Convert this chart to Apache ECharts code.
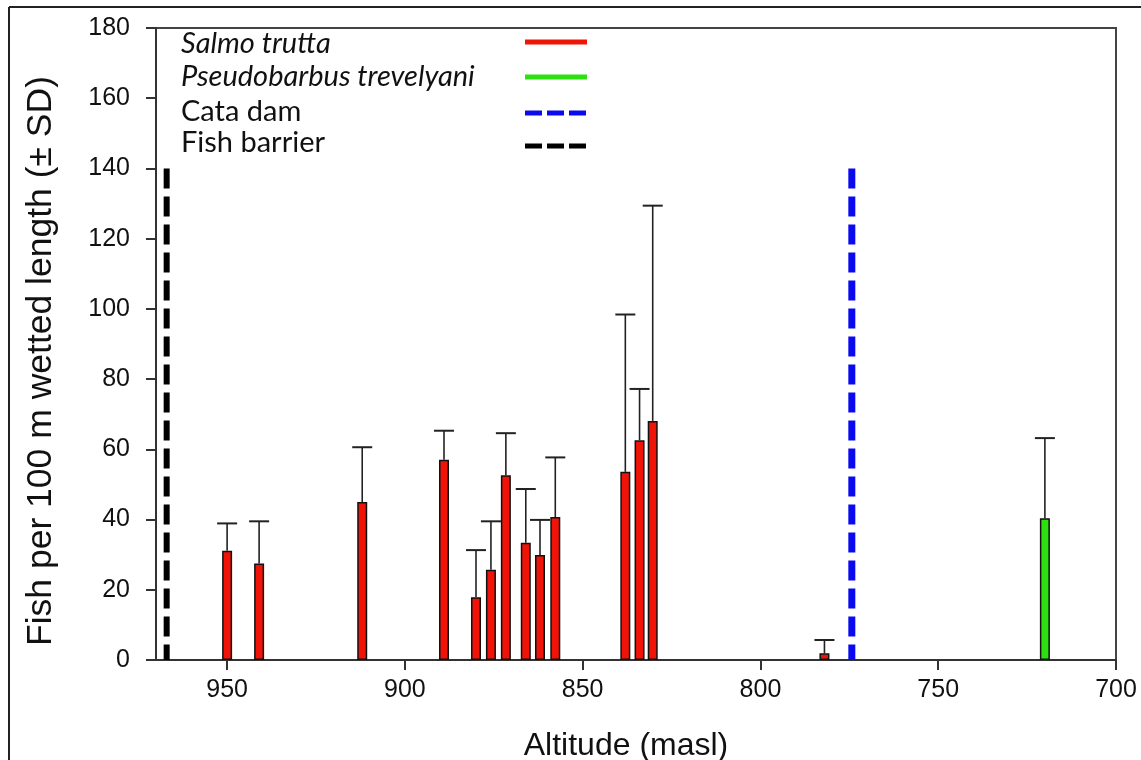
<!DOCTYPE html>
<html>
<head>
<meta charset="utf-8">
<script src="https://cdn.jsdelivr.net/npm/echarts@6/dist/echarts.min.js"></script>
<style>html,body{margin:0;padding:0;background:#fff;}#chart{width:1141px;height:760px;}</style>
</head>
<body>
<div id="chart"></div>
<script>
// Salmo trutta sites: altitude (masl), mean fish per 100 m, SD
const salmoAltitude = [950, 941, 912, 889, 880, 875.8, 871.6, 866, 862, 857.7, 838, 834, 830.3, 782];
const salmoMean     = [31.1, 27.5, 45.0, 57.0, 17.9, 25.7, 52.6, 33.4, 29.9, 40.7, 53.6, 62.6, 68.1, 1.9];
const salmoSD       = [7.8, 12.0, 15.6, 8.3, 13.4, 13.8, 12.0, 15.3, 10.0, 17.0, 44.8, 14.6, 61.3, 3.8];
// Pseudobarbus trevelyani site
const pseudoAltitude = [720];
const pseudoMean     = [40.4];
const pseudoSD       = [22.8];
// Reference lines
const cataDamAltitude = 774.3;
const fishBarrierAltitude = 967;
const referenceLineTop = 140;
// Axes
const xTickValues = [950, 900, 850, 800, 750, 700];
const xMin = 700, xMax = 970;
const yMin = 0, yMax = 180, yInterval = 20;
const legendLabels = ['Salmo trutta', 'Pseudobarbus trevelyani', 'Cata dam', 'Fish barrier'];

const salmoData = salmoAltitude.map((a, i) => [a, salmoMean[i]]);
const pseudoData = pseudoAltitude.map((a, i) => [a, pseudoMean[i]]);
const errData = salmoAltitude.map((a, i) => [a, salmoMean[i], salmoSD[i]])
  .concat(pseudoAltitude.map((a, i) => [a, pseudoMean[i], pseudoSD[i]]));

const FONT = '"Liberation Sans", Arial, sans-serif';
const LFONT = 'Lato, "Open Sans", sans-serif';

const chart = echarts.init(document.getElementById('chart'));
chart.setOption({
  animation: false,
  backgroundColor: '#fff',
  grid: { left: 156, right: 25, top: 28, bottom: 100, show: true, borderColor: '#444', borderWidth: 2, backgroundColor: 'transparent', containLabel: false, outerBoundsMode: 'none' },
  xAxis: {
    type: 'value', min: xMin, max: xMax, inverse: true,
    name: 'Altitude (masl)', nameLocation: 'middle', nameGap: 70,
    nameTextStyle: { fontFamily: FONT, fontSize: 32, color: '#111', padding: [0, 20, 0, 0] },
    axisLine: { show: true, onZero: false, lineStyle: { color: '#333', width: 2 } },
    axisTick: { show: true, length: 10, lineStyle: { color: '#333', width: 2 }, customValues: xTickValues },
    axisLabel: { fontFamily: FONT, fontSize: 25, color: '#111', margin: 18, customValues: xTickValues },
    splitLine: { show: false }
  },
  yAxis: {
    type: 'value', min: yMin, max: yMax, interval: yInterval,
    name: 'Fish per 100 m wetted length (\u00b1 SD)', nameLocation: 'middle', nameGap: 97, nameRotate: 90,
    nameTextStyle: { fontFamily: FONT, fontSize: 35.5, color: '#111', padding: [0, 34, 0, 0] },
    axisLine: { show: true, lineStyle: { color: '#333', width: 2 } },
    axisTick: { show: true, length: 10, lineStyle: { color: '#333', width: 2 } },
    axisLabel: { fontFamily: FONT, fontSize: 25, color: '#111', margin: 26 },
    splitLine: { show: false }
  },
  series: [
    { name: 'Salmo trutta', type: 'bar', data: salmoData, barWidth: 10, barGap: '-100%',
      itemStyle: { color: '#f01408', borderColor: '#111', borderWidth: 1.5 } },
    { name: 'Pseudobarbus trevelyani', type: 'bar', data: pseudoData, barWidth: 10, barGap: '-100%',
      itemStyle: { color: '#2ee010', borderColor: '#111', borderWidth: 1.5 } },
    { name: 'SD', type: 'custom', data: errData, z: 5,
      renderItem: function (params, api) {
        const x = api.value(0), y = api.value(1), sd = api.value(2);
        const p0 = api.coord([x, y]);
        const p1 = api.coord([x, y + sd]);
        return { type: 'group', children: [
          { type: 'line', shape: { x1: p0[0], y1: p0[1], x2: p1[0], y2: p1[1] }, style: { stroke: '#222', lineWidth: 1.6 } },
          { type: 'line', shape: { x1: p1[0] - 10, y1: p1[1], x2: p1[0] + 10, y2: p1[1] }, style: { stroke: '#222', lineWidth: 2 } }
        ]};
      }
    },
    { name: 'Cata dam', type: 'line', symbol: 'none', z: 4,
      data: [[cataDamAltitude, referenceLineTop], [cataDamAltitude, 0]],
      lineStyle: { color: '#0a0aee', width: 7, type: [20, 8] } },
    { name: 'Fish barrier', type: 'line', symbol: 'none', z: 4,
      data: [[fishBarrierAltitude, referenceLineTop], [fishBarrierAltitude, 0]],
      lineStyle: { color: '#000', width: 6, type: [20, 8] } }
  ],
  graphic: [
    { type: 'line', shape: { x1: 9, y1: 7, x2: 1141, y2: 7 }, style: { stroke: '#222', lineWidth: 2 } },
    { type: 'line', shape: { x1: 9, y1: 7, x2: 9, y2: 760 }, style: { stroke: '#222', lineWidth: 2 } },
    { type: 'text', left: 181, top: 29, style: { text: legendLabels[0], font: 'italic 29px ' + LFONT, fill: '#111' } },
    { type: 'text', left: 181, top: 62, style: { text: legendLabels[1], font: 'italic 29px ' + LFONT, fill: '#111' } },
    { type: 'text', left: 181, top: 97, style: { text: legendLabels[2], font: '29px ' + LFONT, fill: '#111' } },
    { type: 'text', left: 181, top: 128, style: { text: legendLabels[3], font: '29px ' + LFONT, fill: '#111' } },
    { type: 'line', shape: { x1: 525, y1: 42, x2: 587, y2: 42 }, style: { stroke: '#f01408', lineWidth: 5 } },
    { type: 'line', shape: { x1: 525, y1: 77, x2: 587, y2: 77 }, style: { stroke: '#2ee010', lineWidth: 5 } },
    { type: 'line', shape: { x1: 525, y1: 113, x2: 587, y2: 113 }, style: { stroke: '#0a0aee', lineWidth: 5, lineDash: [17, 5] } },
    { type: 'line', shape: { x1: 525, y1: 146, x2: 587, y2: 146 }, style: { stroke: '#000', lineWidth: 5, lineDash: [17, 5] } }
  ]
});
</script>
</body>
</html>
